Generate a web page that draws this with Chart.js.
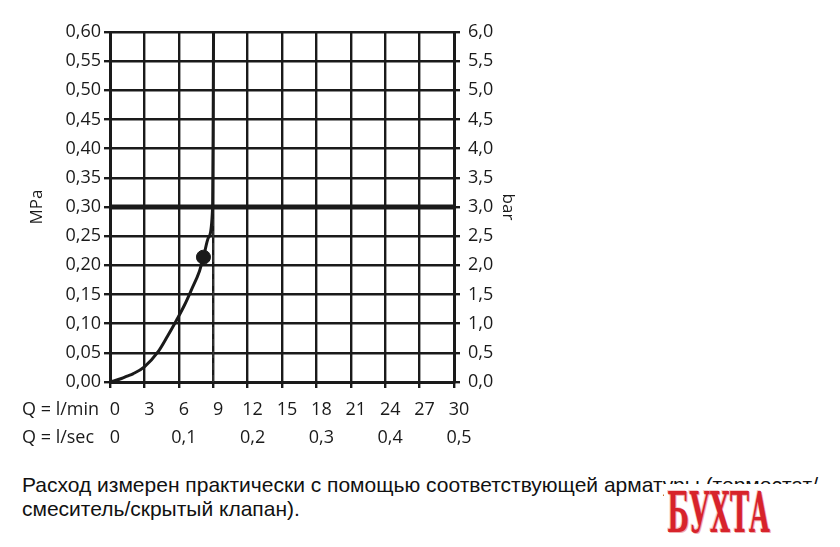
<!DOCTYPE html>
<html lang="ru">
<head>
<meta charset="utf-8">
<title>Расход / давление</title>
<script src="https://cdn.jsdelivr.net/npm/chart.js@4/dist/chart.umd.min.js"></script>
<style>
    html, body {
        margin: 0;
        padding: 0;
        background: #fff;
    }
    #page {
        position: relative;
        width: 840px;
        height: 547px;
        overflow: hidden;
    }
    #chart-box {
        position: absolute;
        left: 0;
        top: 0;
        width: 840px;
        height: 455px;
    }
    #caption {
        position: absolute;
        left: 22px;
        top: 473px;
        font-family: "Liberation Sans", Arial, sans-serif;
        font-size: 21px;
        line-height: 24px;
        color: #111;
        white-space: nowrap;
    }
    #logo-mask {
        position: absolute;
        left: 664px;
        top: 484px;
        width: 176px;
        height: 63px;
        background: #fff;
    }
    #logo {
        position: absolute;
        left: 613px;
        top: 482px;
        width: 200px;
        text-align: center;
        font-family: "DejaVu Serif", serif;
        font-weight: bold;
        font-size: 56px;
        line-height: 60px;
        color: #d7232b;
        transform: scaleX(0.46);
        transform-origin: center;
        text-shadow: 2px 1px 0 #f0aeb1, -2px -1px 0 #f6c9cb;
    }
</style>
</head>
<body>
<div id="page">
    <div id="chart-box"><canvas id="flowChart"></canvas></div>
    <div id="caption">Расход измерен практически с помощью соответствующей арматуры (термостат/<br>смеситель/скрытый клапан).</div>
    <div id="logo-mask"></div>
    <div id="logo">БУХТА</div>
</div>

<script>
// Données
const flowLmin    = [0, 1, 1.5, 2, 3, 4.2, 5, 5.8, 6.5, 7.1, 7.8, 8.15, 8.6, 8.95, 9.0, 9.03];
const pressureMPa = [0, 0.006, 0.01, 0.014, 0.026, 0.052, 0.078, 0.106, 0.132, 0.158, 0.19, 0.214, 0.248, 0.30, 0.45, 0.60];

const markerFlow = [8.15];
const markerPressure = [0.214];

const limitFlow = [0, 30];
const limitPressure = [0.30, 0.30];

const dashFlow = [9, 9];
const dashPressure = [0, 0.30];

const flowTicks = [0, 3, 6, 9, 12, 15, 18, 21, 24, 27, 30];
const secLabels = { 0: '0', 6: '0,1', 12: '0,2', 18: '0,3', 24: '0,4', 30: '0,5' };

const rowLabels = ['Q = l/min', 'Q = l/sec'];

const INK = '#1a1a1a';
const TICK_FONT = { family: '"Open Sans", sans-serif', size: 18, lineHeight: 1.55 };

function toPoints(xs, ys) {
    return xs.map((x, i) => ({ x: x, y: ys[i] }));
}

function comma(v, digits) {
    return Number(v).toFixed(digits).replace('.', ',');
}

/**
 * Légende des lignes de l'axe X (Q = l/min, Q = l/sec)
 */
const rowLabelPlugin = {
    id: 'rowLabels',
    afterDraw(chart) {
        const ctx = chart.ctx;
        const bottom = chart.chartArea.bottom;
        ctx.save();
        ctx.font = '18px "Open Sans", sans-serif';
        ctx.fillStyle = INK;
        ctx.textAlign = 'left';
        ctx.textBaseline = 'middle';
        ctx.fillText(rowLabels[0], 22, bottom + 28);
        ctx.fillText(rowLabels[1], 22, bottom + 56);
        ctx.restore();
    }
};

document.addEventListener('DOMContentLoaded', function() {
    const ctx = document.getElementById('flowChart').getContext('2d');

    new Chart(ctx, {
        type: 'line',
        data: {
            datasets: [
                {
                    data: toPoints(markerFlow, markerPressure),
                    showLine: false,
                    pointRadius: 7,
                    pointBackgroundColor: INK,
                    pointBorderColor: INK,
                    order: 0
                },
                {
                    data: toPoints(flowLmin, pressureMPa),
                    borderColor: INK,
                    borderWidth: 3,
                    pointRadius: 0,
                    cubicInterpolationMode: 'monotone',
                    order: 1
                },
                {
                    data: toPoints(limitFlow, limitPressure),
                    borderColor: INK,
                    borderWidth: 5,
                    pointRadius: 0,
                    order: 2
                },
                {
                    data: toPoints(dashFlow, dashPressure),
                    borderColor: '#333',
                    borderWidth: 1.6,
                    borderDash: [7, 5],
                    pointRadius: 0,
                    order: 3
                }
            ]
        },
        options: {
            responsive: true,
            maintainAspectRatio: false,
            animation: false,
            layout: {
                padding: { left: 23, right: 318, top: 32, bottom: 0 }
            },
            plugins: {
                legend: { display: false },
                tooltip: { enabled: false }
            },
            scales: {
                x: {
                    type: 'linear',
                    position: 'bottom',
                    min: 0,
                    max: 30,
                    afterBuildTicks: scale => {
                        scale.ticks = flowTicks.map(v => ({ value: v }));
                    },
                    afterFit: scale => { scale.height = 73; },
                    ticks: {
                        color: INK,
                        font: TICK_FONT,
                        padding: 8,
                        labelOffset: 5,
                        maxRotation: 0,
                        autoSkip: false,
                        callback: v => [String(v), secLabels[v] || '']
                    },
                    grid: {
                        color: INK,
                        lineWidth: 2.4,
                        tickLength: 6
                    },
                    border: { color: INK, width: 3 }
                },
                y: {
                    position: 'left',
                    min: 0,
                    max: 0.6,
                    afterFit: scale => { scale.width = 87; },
                    ticks: {
                        stepSize: 0.05,
                        color: INK,
                        font: { family: '"Open Sans", sans-serif', size: 18 },
                        padding: 3,
                        callback: v => comma(v, 2)
                    },
                    grid: {
                        color: INK,
                        lineWidth: 2.4,
                        tickLength: 6
                    },
                    border: { color: INK, width: 3 },
                    title: {
                        display: true,
                        text: 'MPa',
                        color: INK,
                        font: { family: '"Open Sans", sans-serif', size: 17 }
                    }
                },
                y2: {
                    position: 'right',
                    min: 0,
                    max: 6,
                    afterFit: scale => { scale.width = 68; },
                    ticks: {
                        stepSize: 0.5,
                        color: INK,
                        font: { family: '"Open Sans", sans-serif', size: 18 },
                        padding: 8,
                        callback: v => comma(v, 1)
                    },
                    grid: {
                        drawOnChartArea: false,
                        color: INK,
                        lineWidth: 2.4,
                        tickLength: 6
                    },
                    border: { color: INK, width: 3 },
                    title: {
                        display: true,
                        text: 'bar',
                        color: INK,
                        font: { family: '"Open Sans", sans-serif', size: 17 }
                    }
                }
            }
        },
        plugins: [rowLabelPlugin]
    });
});
</script>
</body>
</html>
